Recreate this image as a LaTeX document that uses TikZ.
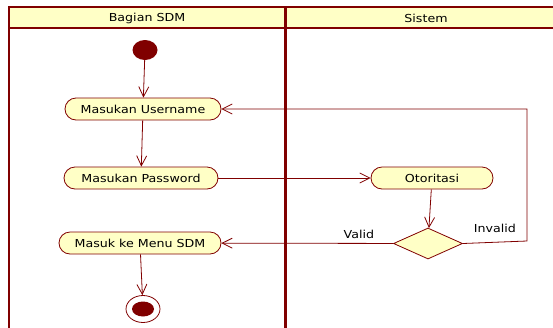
\documentclass[tikz,border=0pt]{standalone}
\usepackage{fontspec}
\newfontfamily\diafont[FakeStretch=1.15]{DejaVu Sans}
\usetikzlibrary{positioning, arrows.meta, shapes.geometric}
\definecolor{umlred}{HTML}{800000}
\definecolor{umlfill}{HTML}{FFFFC6}

\begin{document}
\begin{tikzpicture}[
    x=1pt, y=-1pt,
    every node/.style={font=\diafont\fontsize{11}{13}\selectfont, text=black},
    action/.style={draw=umlred, fill=umlfill, line width=0.8pt, rounded corners=11pt, minimum height=22pt, inner sep=0pt},
    decision/.style={diamond, draw=umlred, fill=umlfill, line width=0.8pt, minimum width=69pt, minimum height=31pt, inner sep=0pt},
    startstate/.style={ellipse, fill=umlred, minimum width=25pt, minimum height=20pt, inner sep=0pt},
    endstate/.style={ellipse, draw=umlred, fill=white, line width=0.8pt, minimum width=34pt, minimum height=27pt, inner sep=0pt},
    flow/.style={draw=umlred, line width=0.8pt, -{Straight Barb[length=10pt, width=10pt]}}
]
\useasboundingbox (0,0) rectangle (553,327);
\clip (0,0) rectangle (553,327);

% Lanes
\fill[umlfill] (9,7) rectangle (560,28);
\draw[umlred, line width=1.5pt] (9,335) -- (9,7) -- (560,7);
\draw[umlred, line width=1.5pt] (9,28) -- (560,28);
\draw[umlred, line width=3pt] (285.5,7) -- (285.5,335);
\node (lanesdm) at (147,18) {Bagian SDM};
\node (lanesys) at (426,18) {Sistem};

% Nodes
\node[startstate] (startdot) at (145,50) {};
\node[action, minimum width=156pt] (user) at (143,109) {Masukan Username};
\node[action, minimum width=154pt] (pass) at (141,178) {Masukan Password};
\node[action, minimum width=122pt] (otor) at (432,178) {Otoritasi};
\node[decision] (dec) at (428,243.5) {};
\node[action, minimum width=162pt] (menu) at (140,243) {Masuk ke Menu SDM};
\node[endstate] (finish) at (143,309) {};
\node[startstate, minimum width=22pt, minimum height=15pt] (finishdot) at (finish) {};
\coordinate (loop) at (527,241);

% Paths
\draw[flow] (startdot) -- (user);
\draw[flow] (user) -- (pass);
\draw[flow] (pass) -- (otor);
\draw[flow] (otor) -- (dec);
\draw[flow] (dec) -- node[pos=0.2, above=1pt] (valid) {Valid} (menu);
\draw[flow] (dec.east) -- node[above=6pt] (invalid) {Invalid} (loop) |- (user.east);
\draw[flow] (menu) -- (finish);

\end{tikzpicture}
\end{document}
